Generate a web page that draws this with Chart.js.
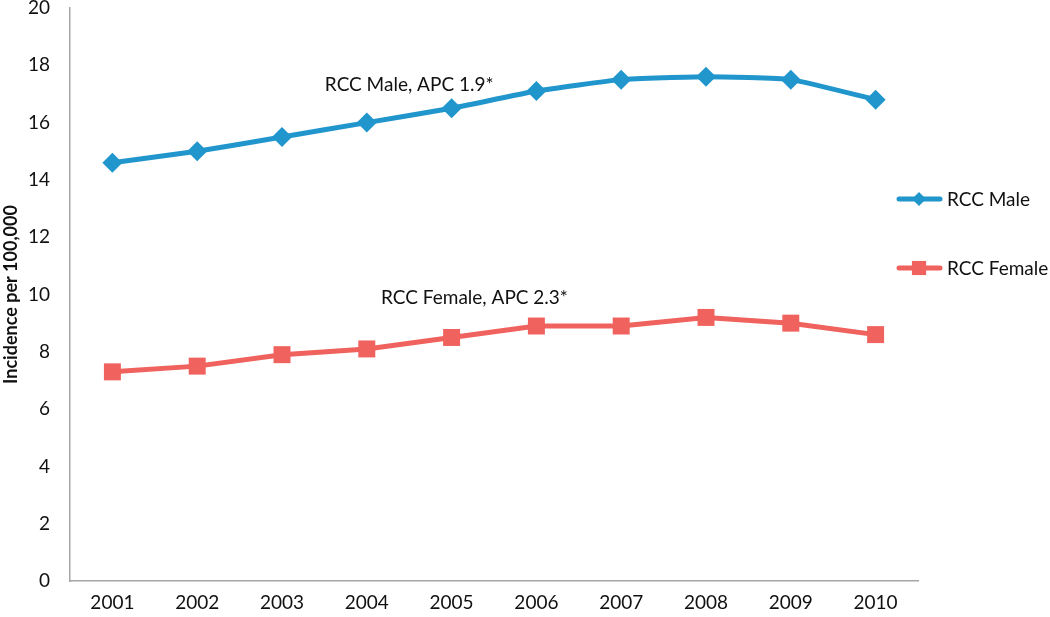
<!doctype html>
<html>
<head>
<meta charset="UTF-8" />
<style>
  html, body { margin: 0; padding: 0; background: #fff; }
  .wrap { width: 1050px; height: 617px; }
</style>
</head>
<body>
<div class="wrap"><canvas id="c" width="1050" height="617"></canvas></div>
<script src="https://cdn.jsdelivr.net/npm/chart.js"></script>
<script>
const years = ['2001', '2002', '2003', '2004', '2005', '2006', '2007', '2008', '2009', '2010'];
const rccMale = [14.6, 15.0, 15.5, 16.0, 16.5, 17.1, 17.5, 17.6, 17.5, 16.8];
const rccFemale = [7.3, 7.5, 7.9, 8.1, 8.5, 8.9, 8.9, 9.2, 9.0, 8.6];
const notes = [
  { text: 'RCC Male, APC 1.9*', x: 3.5, y: 17.3 },
  { text: 'RCC Female, APC 2.3*', x: 4.27, y: 9.88 }
];

const BLUE = '#2196CC';
const RED = '#F0625D';
const FONT = 'Lato, "Open Sans", sans-serif';

// notes on the plot + legend at the right
const extras = {
  id: 'extras',
  afterDraw(chart) {
    const { ctx, scales } = chart;
    ctx.save();
    ctx.font = '19px ' + FONT;
    ctx.fillStyle = '#111';
    ctx.textAlign = 'center';
    ctx.textBaseline = 'middle';
    notes.forEach((n) => {
      ctx.fillText(n.text, scales.x.getPixelForValue(n.x), scales.y.getPixelForValue(n.y));
    });

    const items = [
      { ds: chart.data.datasets[0], y: 199, style: 'rectRot', r: 7 },
      { ds: chart.data.datasets[1], y: 268, style: 'rect', r: 10 }
    ];
    items.forEach((it) => {
      ctx.strokeStyle = it.ds.borderColor;
      ctx.lineWidth = 5;
      ctx.lineCap = 'round';
      ctx.beginPath();
      ctx.moveTo(899, it.y);
      ctx.lineTo(940, it.y);
      ctx.stroke();
      ctx.fillStyle = it.ds.borderColor;
      Chart.helpers.drawPoint(ctx, { pointStyle: it.style, radius: it.r, borderWidth: 0 }, 919, it.y);
      ctx.fillStyle = '#111';
      ctx.textAlign = 'left';
      ctx.font = '19px ' + FONT;
      ctx.fillText(it.ds.label, 947, it.y + 1);
    });
    ctx.restore();
  }
};

new Chart(document.getElementById('c'), {
  type: 'line',
  data: {
    labels: years,
    datasets: [
      {
        label: 'RCC Male',
        data: rccMale,
        borderColor: BLUE,
        backgroundColor: BLUE,
        borderWidth: 5,
        pointStyle: 'rectRot',
        pointRadius: 10,
        pointHoverRadius: 10,
        pointBorderWidth: 0,
        tension: 0.15
      },
      {
        label: 'RCC Female',
        data: rccFemale,
        borderColor: RED,
        backgroundColor: RED,
        borderWidth: 5,
        pointStyle: 'rect',
        pointRadius: 12,
        pointHoverRadius: 12,
        pointBorderWidth: 0,
        tension: 0
      }
    ]
  },
  options: {
    responsive: false,
    animation: false,
    layout: { autoPadding: false, padding: { top: 8, right: 132, bottom: 0, left: 0 } },
    plugins: { legend: { display: false }, tooltip: { enabled: false } },
    scales: {
      x: {
        offset: true,
        grid: { display: false, drawTicks: false },
        border: { display: true, color: '#A6A6A6', width: 1.5 },
        ticks: { color: '#111', font: { family: FONT, size: 19 }, padding: 10 },
        afterFit(scale) { scale.height = 36; }
      },
      y: {
        min: 0,
        max: 20,
        grid: { display: false, drawTicks: false },
        border: { display: true, color: '#A6A6A6', width: 1.5 },
        ticks: { stepSize: 2, color: '#111', font: { family: FONT, size: 19 }, padding: 20 },
        title: {
          display: true,
          text: 'Incidence per 100,000',
          color: '#111',
          font: { family: FONT, size: 18, weight: 'bold' },
          padding: 0
        },
        afterFit(scale) {
          scale.width = 70;
          scale.paddingTop = 0;
          scale.paddingBottom = 0;
        }
      }
    }
  },
  plugins: [extras]
});
</script>
</body>
</html>
